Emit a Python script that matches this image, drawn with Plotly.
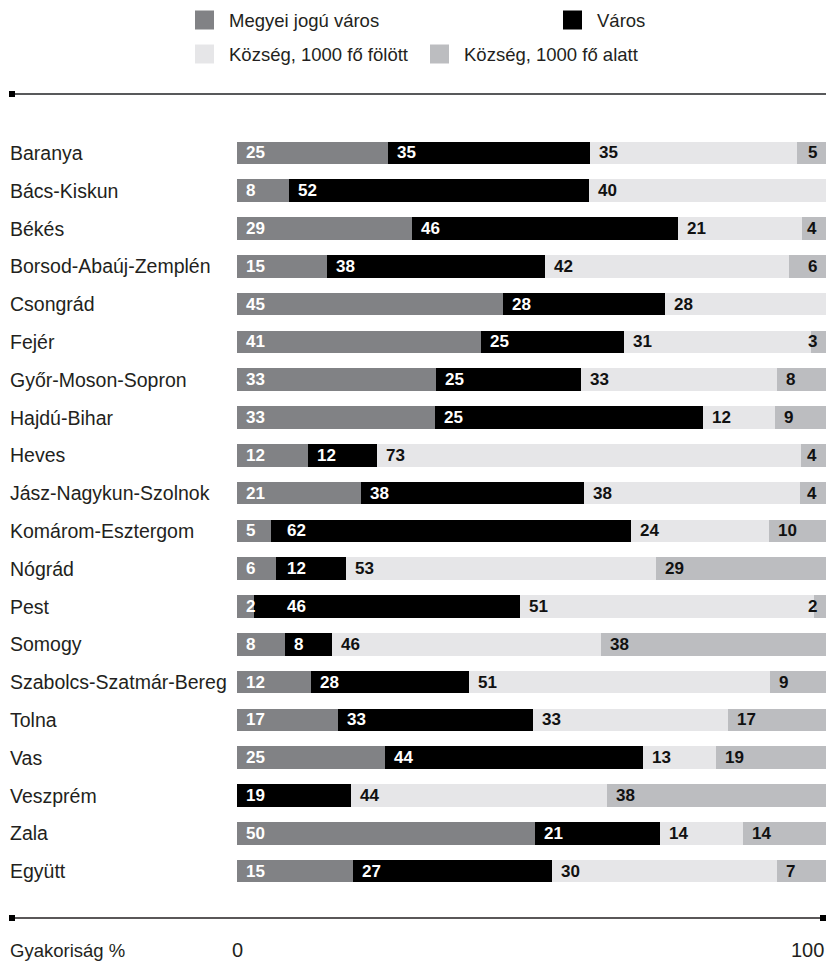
import plotly.graph_objects as go

categories = ["Baranya", "Bács-Kiskun", "Békés", "Borsod-Abaúj-Zemplén", "Csongrád", "Fejér",
              "Győr-Moson-Sopron", "Hajdú-Bihar", "Heves", "Jász-Nagykun-Szolnok",
              "Komárom-Esztergom", "Nógrád", "Pest", "Somogy", "Szabolcs-Szatmár-Bereg",
              "Tolna", "Vas", "Veszprém", "Zala", "Együtt"]

series_names = ["Megyei jogú város", "Város", "Község, 1000 fő fölött", "Község, 1000 fő alatt"]
series_colors = ["#818285", "#000000", "#e6e6e8", "#bcbdc0"]
label_colors = ["#ffffff", "#ffffff", "#111111", "#111111"]

# bar lengths (as drawn)
megyei = [25.7, 8.8, 29.7, 15.3, 45.2, 41.4, 33.8, 33.6, 12.1, 21.1, 5.8, 6.6, 2.9, 8.2, 12.6, 17.2, 25.2, 0, 50.6, 19.7]
varos = [34.2, 50.9, 45.2, 37.0, 27.4, 24.3, 24.6, 45.5, 11.7, 37.8, 61.1, 11.9, 45.2, 7.9, 26.8, 33.1, 43.8, 19.4, 21.2, 33.8]
folott = [35.1, 40.3, 21.0, 41.4, 27.4, 31.7, 33.3, 12.3, 71.9, 36.7, 23.4, 52.7, 49.9, 45.7, 51.1, 33.1, 12.4, 43.4, 14.1, 38.2]
alatt = [5.0, 0, 4.1, 6.3, 0, 2.6, 8.3, 8.6, 4.3, 4.4, 9.7, 28.8, 2.0, 38.2, 9.5, 16.6, 18.6, 37.2, 14.1, 8.3]

# printed labels
megyei_lbl = [25, 8, 29, 15, 45, 41, 33, 33, 12, 21, 5, 6, 2, 8, 12, 17, 25, None, 50, 15]
varos_lbl = [35, 52, 46, 38, 28, 25, 25, 25, 12, 38, 62, 12, 46, 8, 28, 33, 44, 19, 21, 27]
folott_lbl = [35, 40, 21, 42, 28, 31, 33, 12, 73, 38, 24, 53, 51, 46, 51, 33, 13, 44, 14, 30]
alatt_lbl = [5, None, 4, 6, None, 3, 8, 9, 4, 4, 10, 29, 2, 38, 9, 17, 19, 38, 14, 7]

axis_ticks = ["0", "100"]
axis_title = "Gyakoriság %"

W, H = 826, 964
ML, MR, MT, MB = 237, 0, 134, 74
PW = W - ML - MR
PH = H - MT - MB
PX = PW / 100.0

FONT = "Liberation Sans, Arial, sans-serif"
CAT_SIZE = 19.5
LEG_SIZE = 18.5
AX_SIZE = 18.5
TICK_SIZE = 20
LBL_SIZE = 17
DIGIT_W = 0.556 * LBL_SIZE
TXT_COLOR = "#231f20"

values = [megyei, varos, folott, alatt]
labels = [megyei_lbl, varos_lbl, folott_lbl, alatt_lbl]

fig = go.Figure()
for name, vals, col in zip(series_names, values, series_colors):
    fig.add_trace(go.Bar(y=categories, x=vals, name=name, orientation="h",
                         marker=dict(color=col, line=dict(width=0)),
                         showlegend=False, hoverinfo="x+name"))

annotations = []
# segment labels
for i, cat in enumerate(categories):
    start = 0.0
    prev_right = None
    for s in range(4):
        v = values[s][i]
        lab = labels[s][i]
        if lab is not None and v > 0:
            txt = str(lab)
            w = len(txt) * DIGIT_W
            lfont = dict(family=FONT, size=LBL_SIZE, color=label_colors[s], weight="bold")
            if s == 3 and v < 7:
                annotations.append(dict(x=start + v, y=cat, xref="x", yref="y", text=txt,
                                        xanchor="right", yanchor="middle", xshift=-7,
                                        showarrow=False, font=lfont))
            else:
                left = start * PX + 8
                if prev_right is not None and left < prev_right + 32:
                    left = prev_right + 32
                annotations.append(dict(x=start, y=cat, xref="x", yref="y", text=txt,
                                        xanchor="left", yanchor="middle",
                                        xshift=left - start * PX - 1,
                                        showarrow=False, font=lfont))
                prev_right = left + w
        start += v

def px_x(x):
    return (x - ML) / PW

def px_y(y):
    return 1 - (y - MT) / PH

# category labels
for cat in categories:
    annotations.append(dict(x=px_x(8), y=cat, xref="paper", yref="y", text=cat,
                            xanchor="left", yanchor="middle", showarrow=False,
                            font=dict(family=FONT, size=CAT_SIZE, color=TXT_COLOR)))

# axis labels at the bottom
annotations.append(dict(x=px_x(8), y=px_y(950), xref="paper", yref="paper", text=axis_title,
                        xanchor="left", yanchor="middle", showarrow=False,
                        font=dict(family=FONT, size=AX_SIZE, color=TXT_COLOR)))
annotations.append(dict(x=0, y=px_y(950), xref="x", yref="paper", text=axis_ticks[0],
                        xanchor="center", yanchor="middle", showarrow=False,
                        font=dict(family=FONT, size=TICK_SIZE, color=TXT_COLOR)))
annotations.append(dict(x=100, y=px_y(950), xref="x", yref="paper", text=axis_ticks[1],
                        xanchor="right", yanchor="middle", showarrow=False,
                        font=dict(family=FONT, size=TICK_SIZE, color=TXT_COLOR)))

shapes = []
# legend
legend_pos = [(195, 20), (563, 20), (195, 54), (430, 54)]
for (lx, ly), name, col in zip(legend_pos, series_names, series_colors):
    shapes.append(dict(type="rect", xref="paper", yref="paper",
                       x0=px_x(lx), x1=px_x(lx + 19), y0=px_y(ly - 9.5), y1=px_y(ly + 9.5),
                       fillcolor=col, line=dict(width=0)))
    annotations.append(dict(x=px_x(lx + 32), y=px_y(ly), xref="paper", yref="paper", text=name,
                            xanchor="left", yanchor="middle", showarrow=False,
                            font=dict(family=FONT, size=LEG_SIZE, color=TXT_COLOR)))

# top rule
shapes.append(dict(type="line", xref="paper", yref="paper", x0=px_x(10), x1=px_x(826),
                   y0=px_y(94), y1=px_y(94), line=dict(color="#58595b", width=2)))
shapes.append(dict(type="rect", xref="paper", yref="paper", x0=px_x(9), x1=px_x(15),
                   y0=px_y(91), y1=px_y(97), fillcolor="#000000", line=dict(width=0)))
# bottom rule
shapes.append(dict(type="line", xref="paper", yref="paper", x0=px_x(10), x1=px_x(824),
                   y0=px_y(918), y1=px_y(918), line=dict(color="#231f20", width=1.5)))
shapes.append(dict(type="rect", xref="paper", yref="paper", x0=px_x(9), x1=px_x(15),
                   y0=px_y(915), y1=px_y(921), fillcolor="#000000", line=dict(width=0)))
shapes.append(dict(type="rect", xref="paper", yref="paper", x0=px_x(820), x1=px_x(826),
                   y0=px_y(915), y1=px_y(921), fillcolor="#000000", line=dict(width=0)))

fig.update_layout(
    width=W, height=H, barmode="stack", bargap=0.4,
    margin=dict(l=ML, r=MR, t=MT, b=MB, pad=0),
    paper_bgcolor="white", plot_bgcolor="white",
    font=dict(family=FONT, size=CAT_SIZE, color=TXT_COLOR),
    xaxis=dict(range=[0, 100], visible=False, fixedrange=True),
    yaxis=dict(range=[len(categories) - 0.5, -0.5], visible=False, fixedrange=True,
               type="category"),
    annotations=annotations, shapes=shapes, showlegend=False,
)

fig.write_html("out.html", config={"displayModeBar": False},
               post_script="document.body.style.margin='0';document.body.style.overflow='hidden';"
                           "document.documentElement.style.overflow='hidden';")
